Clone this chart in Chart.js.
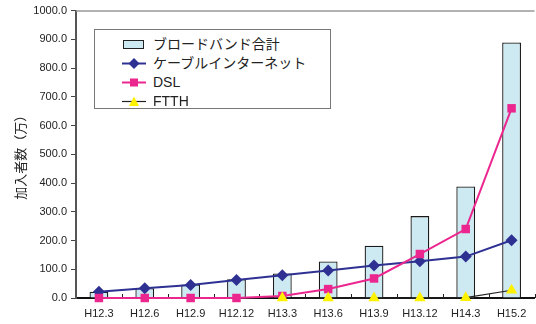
<!DOCTYPE html>
<html>
<head>
<meta charset="utf-8">
<script src="https://cdn.jsdelivr.net/npm/chart.js@4"></script>
<style>
  html, body { margin: 0; padding: 0; background: #fff; overflow: hidden; }
  #wrap { position: relative; width: 541px; height: 324px; }
  #legend {
    position: absolute; left: 94px; top: 29px; width: 235px; height: 78px;
    border: 1px solid #777; background: #fff;
    font-family: "Liberation Sans", "Noto Sans CJK JP", sans-serif; font-size: 14px; color: #222;
  }
  #legend .row { position: absolute; left: 27px; height: 19px; line-height: 19px; white-space: nowrap; }
  #legend svg { position: absolute; left: 0; top: 3px; }
  #legend span { position: absolute; left: 31px; top: 0; }
</style>
</head>
<body>
<div id="wrap">
  <canvas id="myChart"></canvas>
  <div id="legend">
    <div class="row" style="top:5px">
      <svg width="24" height="13"><rect x="1.5" y="2.5" width="20" height="8" fill="#cde9f2" stroke="#222" stroke-width="1"/></svg>
      <span>ブロードバンド合計</span>
    </div>
    <div class="row" style="top:24px">
      <svg width="24" height="13"><line x1="0" y1="6.5" x2="24" y2="6.5" stroke="#2e3192" stroke-width="2"/><polygon points="12,1 17.5,6.5 12,12 6.5,6.5" fill="#2e3192"/></svg>
      <span>ケーブルインターネット</span>
    </div>
    <div class="row" style="top:43px">
      <svg width="24" height="13"><line x1="0" y1="6.5" x2="24" y2="6.5" stroke="#ec268f" stroke-width="2"/><rect x="8" y="2.5" width="8" height="8" fill="#ec268f"/></svg>
      <span>DSL</span>
    </div>
    <div class="row" style="top:62px">
      <svg width="24" height="13"><line x1="0" y1="6.5" x2="24" y2="6.5" stroke="#222" stroke-width="1.2"/><polygon points="12,1.5 17,11 7,11" fill="#fff200"/></svg>
      <span>FTTH</span>
    </div>
  </div>
</div>
<script>
const labels = ["H12.3", "H12.6", "H12.9", "H12.12", "H13.3", "H13.6", "H13.9", "H13.12", "H14.3", "H15.2"];
const broadband = [22, 34, 47, 65, 85, 127, 182, 285, 388, 889];
const cable = [22, 34, 45, 63, 79, 96, 113, 128, 144, 201];
const dsl = [0, 0, 0, 0, 7, 31, 68, 153, 240, 660];
const ftth = [null, null, null, null, 0, 0, 0, 0, 1, 27];
const yTicks = { min: 0, max: 1000, step: 100 };

const ctx = document.getElementById("myChart");

const frame = {
  id: "frame",
  beforeDatasetsDraw(chart) {
    const c = chart.ctx;
    const area = chart.chartArea;
    const x = chart.scales.x;
    c.save();
    // grey top border
    c.strokeStyle = "#999";
    c.lineWidth = 1.5;
    c.beginPath();
    c.moveTo(area.left, area.top + 0.5);
    c.lineTo(area.right, area.top + 0.5);
    c.stroke();
    // small upward ticks between categories
    const half = (x.getPixelForValue(1) - x.getPixelForValue(0)) / 2;
    c.strokeStyle = "#222";
    c.lineWidth = 1;
    for (let i = 0; i < labels.length; i++) {
      const px = Math.round(x.getPixelForValue(i) + half) + 0.5;
      c.beginPath();
      c.moveTo(px, area.bottom);
      c.lineTo(px, area.bottom - 4);
      c.stroke();
    }
    c.restore();
  },
};

new Chart(ctx, {
  data: {
    labels: labels,
    datasets: [
      {
        type: "line",
        label: "ケーブルインターネット",
        data: cable,
        borderColor: "#2e3192",
        backgroundColor: "#2e3192",
        borderWidth: 2,
        pointStyle: "rectRot",
        pointRadius: 6,
        pointBorderWidth: 0,
        clip: false,
        order: 2,
      },
      {
        type: "line",
        label: "DSL",
        data: dsl,
        borderColor: "#ec268f",
        backgroundColor: "#ec268f",
        borderWidth: 2,
        pointStyle: "rect",
        pointRadius: 6,
        pointBorderWidth: 0,
        clip: false,
        order: 1,
      },
      {
        type: "line",
        label: "FTTH",
        data: ftth,
        borderColor: "#222",
        backgroundColor: "#fff200",
        borderWidth: 1.2,
        pointStyle: "triangle",
        pointRadius: 6.5,
        pointBorderWidth: 0,
        clip: false,
        order: 0,
      },
      {
        type: "bar",
        label: "ブロードバンド合計",
        data: broadband,
        backgroundColor: "#cde9f2",
        borderColor: "#1a1a1a",
        borderWidth: 1.3,
        barPercentage: 0.41,
        categoryPercentage: 1,
        order: 10,
      },
    ],
  },
  options: {
    responsive: true,
    maintainAspectRatio: false,
    animation: false,
    layout: { padding: { top: 10, left: 0, right: 0, bottom: 0 } },
    plugins: { legend: { display: false }, tooltip: { enabled: false } },
    scales: {
      x: {
        offset: true,
        grid: { display: false, drawTicks: false },
        border: { display: true, color: "#111", width: 2 },
        ticks: {
          padding: 9,
          color: "#222",
          maxRotation: 0,
          autoSkip: false,
          font: { family: "'Liberation Sans', Arial, sans-serif", size: 11 },
        },
        afterFit: (s) => { s.height = 26; },
      },
      y: {
        min: yTicks.min,
        max: yTicks.max,
        grid: { display: true, drawOnChartArea: false, drawTicks: true, tickLength: 5, color: "#444" },
        border: { display: true, color: "#555", width: 2 },
        ticks: {
          stepSize: yTicks.step,
          padding: 4,
          color: "#222",
          font: { family: "'Liberation Sans', Arial, sans-serif", size: 11 },
          callback: (v) => Number(v).toFixed(1),
        },
        title: {
          display: true,
          text: "加入者数（万）",
          color: "#222",
          padding: { top: 12, bottom: 0 },
          font: { family: "'Noto Sans CJK JP', sans-serif", size: 13 },
        },
        afterFit: (s) => { s.width = 76; },
      },
    },
  },
  plugins: [frame],
});
</script>
</body>
</html>
